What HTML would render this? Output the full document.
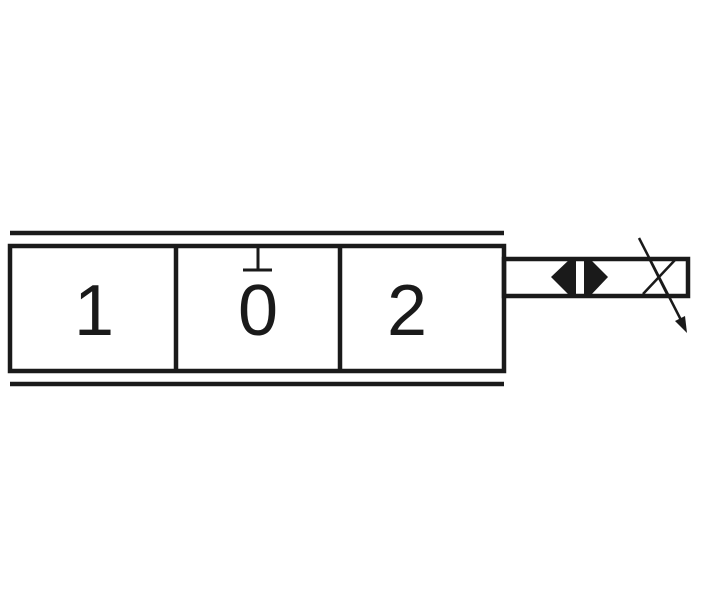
<!DOCTYPE html>
<html><head><meta charset="utf-8"><style>
html,body{margin:0;padding:0;background:#fff;}
svg{display:block;}
</style></head><body>
<svg width="702" height="600" viewBox="0 0 702 600" xmlns="http://www.w3.org/2000/svg">
<rect width="702" height="600" fill="#fff"/>
<g stroke="#1a1a1a" fill="none" stroke-width="4.5">
<line x1="10" y1="233" x2="504" y2="233"/>
<line x1="10" y1="384" x2="504" y2="384"/>
<rect x="10" y="246" width="494" height="125"/>
<line x1="176" y1="246" x2="176" y2="371"/>
<line x1="340" y1="246" x2="340" y2="371"/>
<line x1="258" y1="248" x2="258" y2="270" stroke-width="3"/>
<line x1="243" y1="270" x2="272" y2="270" stroke-width="3"/>
<rect x="504" y="259" width="184" height="37"/>
</g>
<g fill="#1a1a1a">
<polygon points="551,277 570,259 570,296"/>
<polygon points="608,277 590,259 590,296"/>
<rect x="570" y="259" width="6" height="37"/>
<rect x="584" y="259" width="6" height="37"/>
</g>
<g stroke="#1a1a1a" stroke-width="2.5" fill="none">
<line x1="650" y1="260" x2="667" y2="294"/>
<line x1="675" y1="260" x2="643" y2="294"/>
<line x1="639" y1="238" x2="681" y2="320"/>
</g>
<polygon points="687,333 685,316 675,321" fill="#1a1a1a"/>
<g font-family="Liberation Sans, sans-serif" font-size="72" fill="#1a1a1a" text-anchor="middle">
<text x="94" y="335">1</text>
<text x="258" y="335">0</text>
<text x="407" y="335">2</text>
</g>
</svg>
</body></html>
